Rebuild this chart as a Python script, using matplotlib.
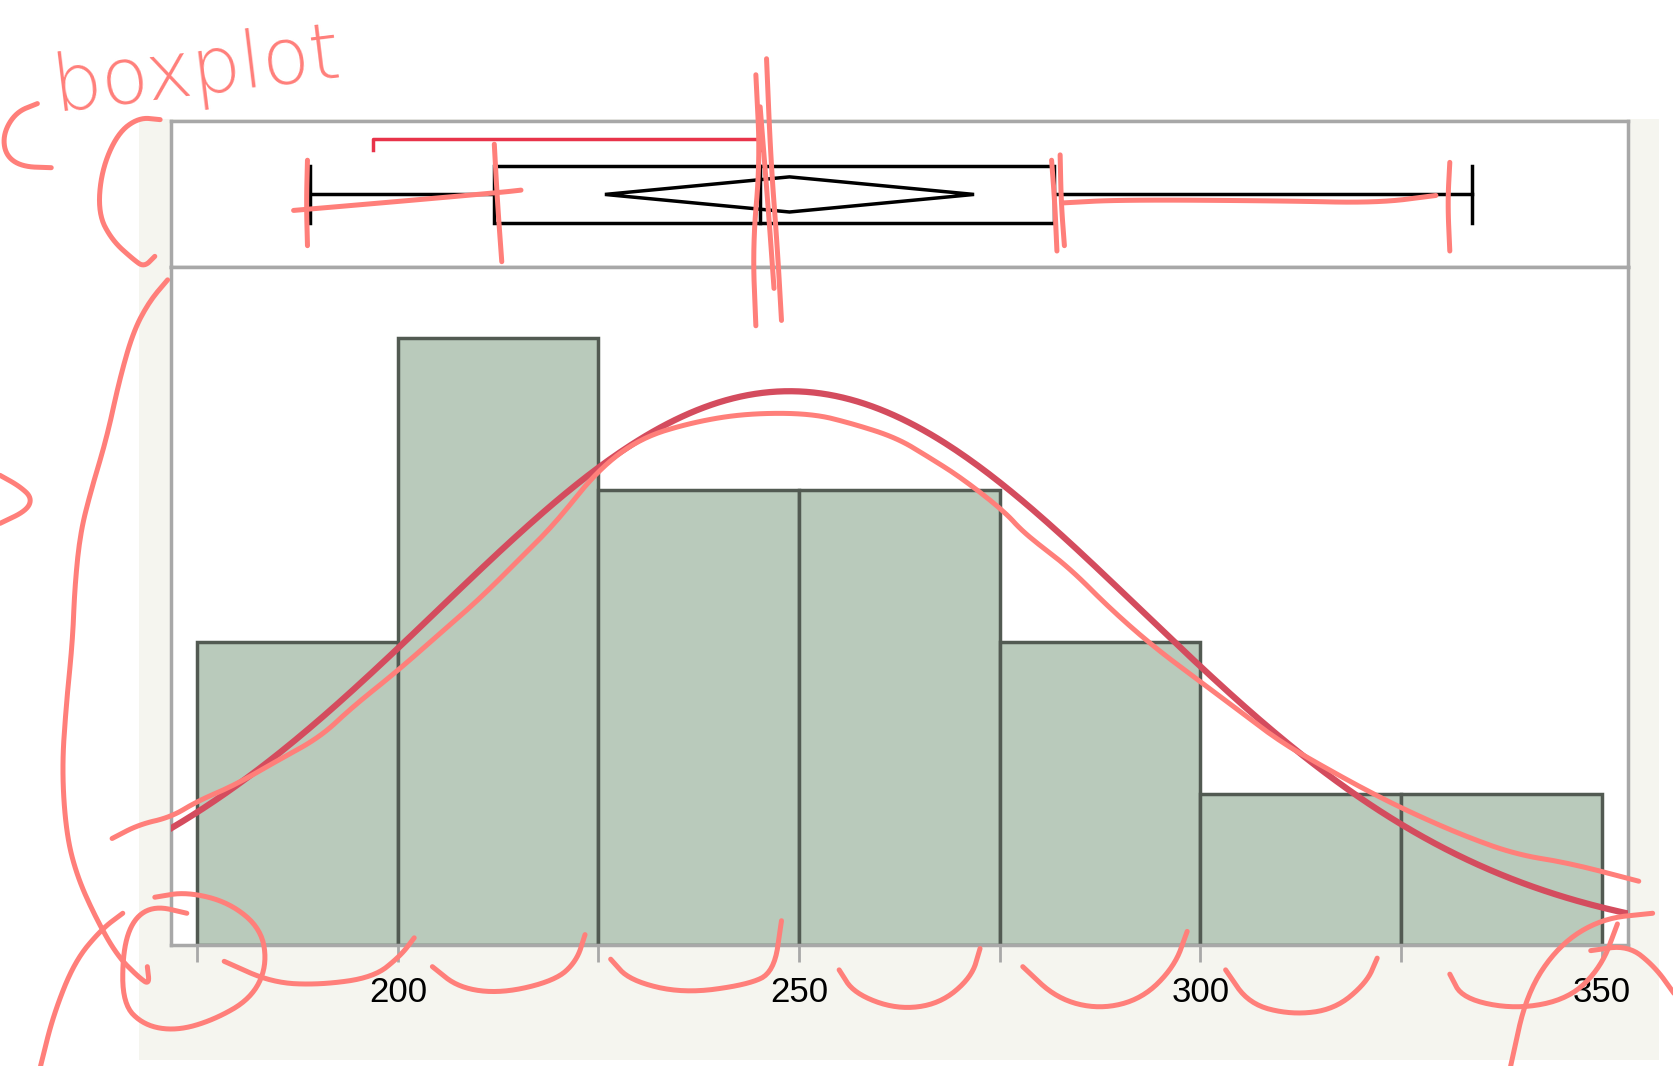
import numpy as np
import matplotlib
matplotlib.use("Agg")
import matplotlib.pyplot as plt
from matplotlib.patches import Rectangle, Polygon

# --- datos ---
bin_edges = [175, 200, 225, 250, 275, 300, 325, 350]   # bordes de las barras
counts = [2, 4, 3, 3, 2, 1, 1]                          # frecuencia de cada barra
tick_vals = [175, 200, 225, 250, 275, 300, 325, 350]
tick_labels = ["", "200", "", "250", "", "300", "", "350"]

# resumen del boxplot
q_min, q1, q_med, q3, q_max = 189.0, 212.0, 245.1, 281.8, 333.9
mean_val = 248.8
ci_half = 23.0              # semi-ancho del diamante de la media
short_half = [196.9, 245.1]  # "shortest half" (linea roja)

# ajuste normal
sd_val = 43.7
n_obs = 16

xlim = (171.7, 353.3)

plt.rcParams['font.family'] = ['Liberation Sans', 'DejaVu Sans']

fig = plt.figure(figsize=(16.74, 10.66), dpi=100)
fig.patch.set_facecolor("white")

# panel beige de fondo
fig.patches.append(Rectangle((0.0829, 0.006), 0.9081, 0.882, transform=fig.transFigure,
                             facecolor="#f5f5ef", edgecolor="none", zorder=-5))

border = "#a8a8a8"

# ----- boxplot -----
axb = fig.add_axes([0.102, 0.7495, 0.8706, 0.1373], zorder=1)
axb.set_facecolor("white")
axb.set_xlim(*xlim)
axb.set_ylim(0, 1)
yc = 0.496
hb = 0.197
axb.plot([q_min, q1], [yc, yc], color="black", lw=2.5)
axb.plot([q3, q_max], [yc, yc], color="black", lw=2.5)
axb.plot([q_min, q_min], [yc - hb, yc + hb], color="black", lw=2.5)
axb.plot([q_max, q_max], [yc - hb, yc + hb], color="black", lw=2.5)
axb.add_patch(Rectangle((q1, yc - hb), q3 - q1, 2 * hb, facecolor="none",
                        edgecolor="black", lw=2.5))
axb.plot([q_med, q_med], [yc - hb, yc + hb], color="black", lw=2.5)
axb.add_patch(Polygon([[mean_val - ci_half, yc], [mean_val, yc + 0.12],
                       [mean_val + ci_half, yc], [mean_val, yc - 0.12]],
                      closed=True, facecolor="none", edgecolor="black", lw=2.5))
axb.plot([short_half[0], short_half[0], short_half[1], short_half[1]],
         [0.803, 0.876, 0.876, 0.803], color="#e8334a", lw=2.5)
axb.set_xticks([])
axb.set_yticks([])
for s in axb.spines.values():
    s.set_color(border)
    s.set_linewidth(2.5)

# ----- histograma -----
ax = fig.add_axes([0.102, 0.1132, 0.8706, 0.6363], zorder=1)
ax.set_facecolor("white")
ax.set_xlim(*xlim)
ax.set_ylim(0, 4.47)
widths = np.diff(bin_edges)
ax.bar(bin_edges[:-1], counts, width=widths, align="edge", color="#b9cabb",
       edgecolor="#525a52", linewidth=2.5, zorder=2)

xs = np.linspace(xlim[0], xlim[1], 400)
bw = bin_edges[1] - bin_edges[0]
ys = n_obs * bw / (sd_val * np.sqrt(2 * np.pi)) * np.exp(-0.5 * ((xs - mean_val) / sd_val) ** 2)
ax.plot(xs, ys, color="#d44c5e", lw=4.5, zorder=3)

ax.set_xticks(tick_vals)
ax.set_xticklabels(tick_labels, fontsize=25)
ax.set_yticks([])
ax.tick_params(axis="x", direction="out", length=12, width=2, color=border, pad=10)
for s in ax.spines.values():
    s.set_color(border)
    s.set_linewidth(2.5)

# ----- anotaciones a mano (salmon) -----
ov = fig.add_axes([0, 0, 1, 1], zorder=10)
ov.set_xlim(0, 1568)
ov.set_ylim(998, 0)
ov.axis("off")
sal = "#ff7f7a"


def suave(pts, n=3):
    # suavizado de Chaikin para que el trazo parezca a mano
    p = np.array(pts, dtype=float)
    for _ in range(n):
        q = 0.75 * p[:-1] + 0.25 * p[1:]
        r = 0.25 * p[:-1] + 0.75 * p[1:]
        nuevo = np.empty((2 * len(q), 2))
        nuevo[0::2] = q
        nuevo[1::2] = r
        p = np.vstack([p[:1], nuevo, p[-1:]])
    return p


strokes = [
    # parentesis y llaves a la izquierda
    [(35, 97), (15, 105), (3, 125), (5, 145), (20, 156), (48, 157)],
    [(150, 112), (130, 110), (110, 125), (95, 160), (92, 200), (105, 225), (125, 243), (135, 250), (145, 240)],
    [(157, 262), (140, 282), (125, 310), (112, 355), (100, 410), (85, 460), (75, 500), (70, 550),
     (68, 600), (62, 660), (58, 720), (62, 780), (72, 820), (90, 860), (110, 895), (130, 915), (140, 922), (138, 905)],
    [(0, 445), (18, 455), (30, 466), (25, 478), (0, 490)],
    # circulos abajo a la izquierda
    [(175, 855), (145, 848), (125, 860), (115, 890), (115, 940), (135, 960), (165, 965), (200, 955),
     (235, 935), (250, 905), (245, 870), (215, 845), (175, 835), (145, 840)],
    [(115, 855), (95, 870), (70, 900), (50, 950), (38, 998)],
    # arcos bajo el eje
    [(210, 900), (255, 920), (300, 922), (350, 915), (375, 895), (388, 878)],
    [(405, 905), (430, 925), (470, 930), (520, 918), (540, 900), (548, 875)],
    [(572, 898), (590, 918), (640, 930), (700, 922), (725, 910), (732, 862)],
    [(786, 908), (800, 930), (840, 945), (880, 940), (910, 915), (918, 888)],
    [(958, 905), (990, 935), (1030, 945), (1070, 935), (1100, 905), (1112, 872)],
    [(1148, 908), (1170, 940), (1210, 950), (1250, 945), (1280, 920), (1290, 897)],
    [(1358, 912), (1370, 935), (1420, 945), (1470, 935), (1500, 905), (1515, 865)],
    [(1548, 855), (1500, 860), (1460, 885), (1430, 930), (1415, 998)],
    [(1490, 890), (1525, 885), (1550, 905), (1568, 930)],
    # trazo sobre la curva
    [(105, 785), (130, 772), (160, 765), (185, 750), (220, 735), (260, 712), (300, 690), (330, 662),
     (370, 630), (410, 595), (450, 560), (490, 520), (520, 490), (560, 440), (600, 410), (650, 395),
     (700, 387), (760, 387), (800, 397), (840, 410), (870, 428), (900, 447), (940, 478), (960, 500),
     (1000, 530), (1040, 570), (1080, 605), (1120, 635), (1160, 665), (1200, 695), (1240, 718),
     (1280, 740), (1320, 760), (1370, 782), (1420, 800), (1470, 808), (1535, 825)],
    # marcas del boxplot
    [(288, 150), (287, 190), (288, 230)],
    [(463, 135), (466, 190), (470, 245)],
    [(708, 70), (712, 150), (705, 230), (708, 305)],
    [(718, 55), (722, 150), (728, 230), (732, 300)],
    [(712, 100), (720, 200), (725, 270)],
    [(985, 150), (988, 190), (990, 235)],
    [(993, 145), (994, 190), (997, 230)],
    [(1358, 152), (1356, 190), (1358, 235)],
    [(275, 197), (380, 188), (470, 180), (488, 178)],
    [(995, 190), (1050, 187), (1200, 188), (1290, 190), (1345, 183)],
]
for st in strokes:
    p = suave(st)
    ov.plot(p[:, 0], p[:, 1], color=sal, lw=3.6, solid_capstyle="round", solid_joinstyle="round")

ov.text(45, 104, "boxplot", color=sal, fontsize=56, rotation=7, family="DejaVu Sans",
        fontweight="light", ha="left", va="baseline")

fig.savefig("out.png", dpi=100)
